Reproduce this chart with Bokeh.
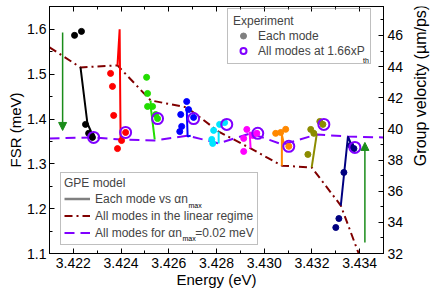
import math
from bokeh.plotting import figure
from bokeh.layouts import row
from bokeh.models import (Range1d, LinearAxis, Legend, LegendItem, Label,
                          Arrow, NormalHead, FixedTicker, PrintfTickFormatter,
                          CustomLabelingPolicy)
from bokeh.embed import file_html
from bokeh.resources import INLINE

# ---------------- data ----------------
mode_colors = ["#000000", "#ff0000", "#22dd00", "#0000ff", "#00e5ff",
               "#ff00ff", "#ff8800", "#8c8c00", "#000080"]

# experiment: each mode (energy eV, FSR meV)
exp_energy = [
    [3.42205, 3.42234, 3.42251, 3.42264, 3.42276, 3.42280],
    [3.42356, 3.42364, 3.42369, 3.42402, 3.42385, 3.42419],
    [3.42507, 3.42511, 3.42511, 3.42532, 3.42545, 3.42553],
    [3.42675, 3.42683, 3.42650, 3.42704, 3.42654, 3.42646],
    [3.42788, 3.42813, 3.42834, 3.42784, 3.42780],
    [3.42927, 3.42914, 3.42914, 3.42952, 3.42969],
    [3.43048, 3.43069, 3.43090, 3.43103],
    [3.43195, 3.43208, 3.43233, 3.43246, 3.43183],
    [3.43334, 3.43313, 3.43300, 3.43363, 3.43376],
]
exp_fsr = [
    [1.5866, 1.5955, 1.388, 1.368, 1.3634, 1.359],
    [1.5018, 1.4728, 1.408, 1.352, 1.334, 1.370],
    [1.493, 1.457, 1.428, 1.428, 1.410, 1.401],
    [1.439, 1.421, 1.410, 1.4036, 1.3835, 1.372],
    [1.3746, 1.388, 1.392, 1.3455, 1.3545],
    [1.3768, 1.3567, 1.3277, 1.3634, 1.368],
    [1.368, 1.370, 1.377, 1.339],
    [1.3768, 1.368, 1.3946, 1.388, 1.321],
    [1.2808, 1.178, 1.158, 1.341, 1.334],
]

# experiment: all modes at 1.66 x P_th
hp_energy = [3.42285, 3.42419, 3.42553, 3.42704, 3.42843, 3.42973, 3.43103, 3.43250, 3.43380]
hp_fsr = [1.359, 1.370, 1.401, 1.401, 1.388, 1.368, 1.339, 1.388, 1.3366]

# GPE model: each mode vs alpha*n_max
gpe_energy = [
    [3.42230, 3.42259, 3.42285],
    [3.42385, 3.42394, 3.42398],
    [3.42524, 3.42524, 3.42541],
    [3.42675, 3.42679, 3.42692],
    [3.42809, 3.42809],
    [3.42943, 3.42939, 3.42952],
    [3.43074, 3.43074, 3.43082],
    [3.43199, 3.43220],
    [3.43321, 3.43351, 3.43363],
]
gpe_fsr = [
    [1.515, 1.390, 1.359],
    [1.5196, 1.600, 1.352],
    [1.4415, 1.428, 1.3545],
    [1.426, 1.361, 1.363],
    [1.372, 1.3455],
    [1.3344, 1.370, 1.3656],
    [1.296, 1.3656, 1.3455],
    [1.292, 1.3656],
    [1.207, 1.361, 1.3455],
]

# GPE model: all modes in the linear regime
lin_energy = [3.4210, 3.42230, 3.42385, 3.42524, 3.42675, 3.42809, 3.42943,
              3.43074, 3.43199, 3.43321, 3.43410]
lin_fsr = [1.560, 1.515, 1.5196, 1.4415, 1.426, 1.372, 1.3344, 1.296, 1.292, 1.207, 1.080]

# GPE model: all modes for alpha*n_max = 0.02 meV
sat_energy = [3.4210, 3.42285, 3.42398, 3.42541, 3.42679, 3.42809, 3.42943,
              3.43078, 3.43220, 3.43351, 3.4350]
sat_fsr = [1.3567, 1.359, 1.3545, 1.3522, 1.363, 1.3455, 1.368, 1.343, 1.3656, 1.361, 1.359]

# arrows
arrow_energy = [3.42155, 3.43422]
arrow_fsr_start = [1.593, 1.1246]
arrow_fsr_end = [1.3745, 1.3478]

# axes ticks
x_ticks = [3.422, 3.424, 3.426, 3.428, 3.430, 3.432, 3.434]
x_minor = [3.421, 3.423, 3.425, 3.427, 3.429, 3.431, 3.433, 3.435]
y_ticks = [1.1, 1.2, 1.3, 1.4, 1.5, 1.6]
y_minor = [1.15, 1.25, 1.35, 1.45, 1.55, 1.65]
v_ticks = [32, 34, 36, 38, 40, 42, 44, 46]
v_minor = [33, 35, 37, 39, 41, 43, 45, 47]

x_title = "Energy (eV)"
y_title = "FSR (meV)"
v_title = "Group velocity (\u00b5m/ps)"

# ---------------- style ----------------
FONT = "Liberation Sans"
LIN_COLOR = "#800000"
SAT_COLOR = "#8000ff"
HP_COLOR = "#8000ff"
ARROW_COLOR = "#1a8c1a"
GREY = "#808080"
NAN = float("nan")

fig = figure(width=412, height=296,
             x_range=Range1d(3.421, 3.435), y_range=Range1d(1.1, 1.651),
             output_backend="svg", toolbar_location=None,
             min_border_left=49, min_border_right=29,
             min_border_top=6, min_border_bottom=43)
fig.extra_y_ranges = {"vel": Range1d(32, 47.86)}
fig.xgrid.visible = False
fig.ygrid.visible = False
fig.outline_line_color = "black"
fig.background_fill_color = "white"
fig.border_fill_color = "white"

bottom_axis = fig.below[0]
left_axis = fig.left[0]
right_axis = LinearAxis(y_range_name="vel")
fig.add_layout(right_axis, "right")
top_axis = LinearAxis()
fig.add_layout(top_axis, "above")

bottom_axis.ticker = FixedTicker(ticks=x_ticks, minor_ticks=x_minor)
top_axis.ticker = FixedTicker(ticks=x_ticks, minor_ticks=x_minor)
left_axis.ticker = FixedTicker(ticks=y_ticks, minor_ticks=y_minor)
right_axis.ticker = FixedTicker(ticks=v_ticks, minor_ticks=v_minor)
bottom_axis.formatter = PrintfTickFormatter(format="%.3f")
left_axis.formatter = PrintfTickFormatter(format="%.1f")
right_axis.formatter = PrintfTickFormatter(format="%d")

left_axis.axis_label = y_title
bottom_axis.axis_label = x_title

for ax in [bottom_axis, top_axis, left_axis, right_axis]:
    ax.major_tick_in = 5
    ax.major_tick_out = 0
    ax.minor_tick_in = 3
    ax.minor_tick_out = 0
    ax.axis_line_color = "black"
    ax.major_tick_line_color = "black"
    ax.minor_tick_line_color = "black"
    ax.major_label_text_font = FONT
    ax.major_label_text_font_size = "14px"
    ax.major_label_text_color = "black"
    ax.major_label_standoff = 3
    ax.axis_label_text_font = FONT
    ax.axis_label_text_font_size = "15px"
    ax.axis_label_text_font_style = "normal"
    ax.axis_label_text_color = "black"
    ax.axis_label_standoff = 0
bottom_axis.major_label_standoff = 4
right_axis.major_label_standoff = 4

# top axis: ticks only
top_axis.major_label_policy = CustomLabelingPolicy(
    code="for (const i of Array.from(indices)) indices.unset(i); return indices")
top_axis.major_label_text_font_size = "1px"
top_axis.major_label_standoff = 0

# ---------------- glyphs ----------------
lin_r = fig.line(lin_energy, lin_fsr, line_color=LIN_COLOR, line_width=2,
                 line_dash="8 4 2 4")
sat_r = fig.line(sat_energy, sat_fsr, line_color=SAT_COLOR, line_width=2,
                 line_dash="10 6")
for xs, ys, c in zip(gpe_energy, gpe_fsr, mode_colors):
    fig.line(xs, ys, line_color=c, line_width=2)
for xs, ys, c in zip(exp_energy, exp_fsr, mode_colors):
    fig.scatter(xs, ys, marker="circle", size=6, fill_color=c, line_color=c)
hp_r = fig.scatter(hp_energy, hp_fsr, marker="circle", size=11, fill_color=None,
                   line_color=HP_COLOR, line_width=2)

for xa, y0, y1 in zip(arrow_energy, arrow_fsr_start, arrow_fsr_end):
    fig.add_layout(Arrow(end=NormalHead(size=8, fill_color=ARROW_COLOR,
                                        line_color=ARROW_COLOR),
                         x_start=xa, y_start=y0, x_end=xa, y_end=y1,
                         line_color=ARROW_COLOR, line_width=1.5))

# legend swatch renderers (a single NaN point, not drawn in the plot)
dot_swatch = fig.scatter([NAN], [NAN], marker="circle", size=6,
                         fill_color=GREY, line_color=GREY)
line_swatch = fig.line([NAN, NAN], [NAN, NAN], line_color=GREY, line_width=2.5)

# subscripts (screen units, relative to the plot frame); legends are see-through
for sx, sy, t in [(313.5, 193, "th"), (139, 48, "max"), (133, 15, "max")]:
    fig.add_layout(Label(x=sx, y=sy, x_units="screen", y_units="screen", text=t,
                         text_font=FONT, text_font_size="7px",
                         text_baseline="alphabetic", text_color="black"))

NB = "\u00a0"
leg1 = Legend(items=[LegendItem(label="Each mode", renderers=[dot_swatch]),
                     LegendItem(label="All modes at 1.66xP", renderers=[hp_r])],
              title="Experiment", location=(178, 189))
leg2 = Legend(items=[LegendItem(label="Each mode vs \u03b1n", renderers=[line_swatch]),
                     LegendItem(label="All modes in the linear regime", renderers=[lin_r]),
                     LegendItem(label="All modes for \u03b1n" + NB * 4 + "=0.02 meV",
                                renderers=[sat_r])],
              title="GPE model", location=(11, 8))
for lg, pad, gw, lh in [(leg1, 5, 20, 15), (leg2, 3, 26, 17)]:
    lg.padding = pad
    lg.spacing = 0
    lg.margin = 0
    lg.glyph_width = gw
    lg.glyph_height = lh
    lg.label_height = lh
    lg.label_standoff = 5
    lg.title_standoff = 0
    lg.label_text_font = FONT
    lg.label_text_font_size = "12px"
    lg.title_text_font = FONT
    lg.title_text_font_size = "12px"
    lg.title_text_font_style = "normal"
    lg.border_line_color = GREY
    lg.border_line_width = 1
    lg.background_fill_alpha = 0
    fig.add_layout(lg)

# right-hand axis title, reading upward, in a narrow strip next to the plot
title_fig = figure(width=24, height=296, output_backend="svg",
                   toolbar_location=None, x_axis_location=None,
                   y_axis_location=None, min_border=0)
title_fig.grid.visible = False
title_fig.outline_line_color = None
title_fig.background_fill_color = "white"
title_fig.border_fill_color = "white"
title_fig.add_layout(Label(x=8, y=168, x_units="screen", y_units="screen",
                           text=v_title, text_font=FONT, text_font_size="16px",
                           angle=90, angle_units="deg",
                           text_align="center", text_baseline="middle",
                           text_color="black"))

p = row(fig, title_fig)
open("out.html", "w").write(file_html(p, INLINE))
